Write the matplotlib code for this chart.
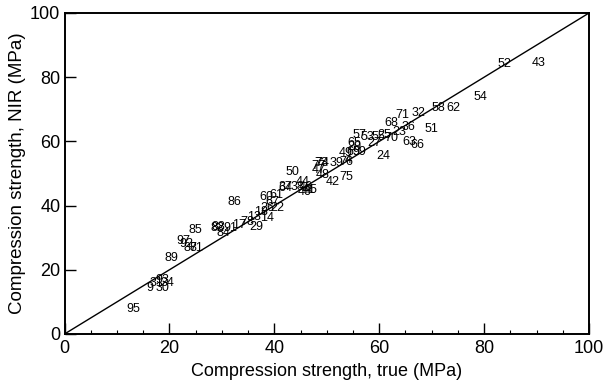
import matplotlib
matplotlib.use("Agg")
import matplotlib.pyplot as plt
import numpy as np
from matplotlib.ticker import MultipleLocator

plt.rcParams['font.family'] = ['Liberation Sans', 'DejaVu Sans']

# sample labels, true compression strength (MPa), NIR-predicted (MPa)
labels = ["95", "9", "30", "93", "31", "34",
          "89", "97", "92", "85", "87", "81", "82", "84",
          "88", "91", "17", "78", "13", "18", "26", "22", "29", "14",
          "86", "60", "61", "67", "64", "37", "50",
          "38", "46", "45", "44", "47", "48", "40", "41",
          "39", "42", "73", "74", "76", "77",
          "49", "75", "4", "69", "65", "57", "53", "55", "20", "59", "27",
          "24", "25", "68", "70", "63", "23", "66", "36", "32", "51", "71",
          "58", "62", "54", "52", "43"]
true_vals = [13.2, 16.2, 18.6, 18.6, 17.6, 19.6,
             20.3, 22.7, 23.3, 25.0, 24.0, 25.2, 29.1, 30.3,
             29.4, 31.7, 33.3, 34.9, 36.1, 37.4, 38.7, 40.6, 36.5, 38.7,
             32.3, 38.4, 40.3, 39.7, 42.2, 42.2, 43.5,
             44.4, 46.0, 47.0, 45.4, 48.5, 49.2, 45.8, 46.6,
             51.8, 51.1, 48.9, 49.2, 53.7, 48.4,
             53.7, 53.7, 54.0, 55.0, 55.3, 56.2, 57.8, 59.8, 55.2, 56.2, 59.0,
             60.7, 61.0, 62.3, 62.3, 65.7, 63.8, 67.3, 65.5, 67.5, 70.0, 64.5,
             71.2, 74.1, 79.3, 83.9, 90.4]
nir_vals = [7.7, 14.2, 14.2, 16.8, 15.8, 15.8,
            23.8, 29.0, 28.0, 32.4, 26.7, 26.7, 33.1, 31.5,
            33.4, 33.1, 34.0, 35.0, 36.5, 38.1, 39.2, 39.2, 33.4, 36.0,
            41.2, 42.8, 43.3, 41.2, 45.4, 45.9, 50.6,
            45.9, 45.9, 44.9, 47.4, 51.1, 49.5, 44.3, 45.0,
            53.2, 47.4, 53.4, 53.2, 53.7, 52.2,
            56.3, 49.0, 54.2, 56.8, 59.4, 62.0, 61.5, 61.5, 58.3, 56.8, 59.5,
            55.5, 62.0, 65.6, 61.0, 59.9, 63.0, 58.9, 64.6, 68.8, 63.8, 68.2,
            70.3, 70.3, 73.8, 84.1, 84.4]

axis_ticks = [0, 20, 40, 60, 80, 100]
diag = [0, 100]

fig = plt.figure(figsize=(6.07, 3.89), dpi=100)
ax = fig.add_axes([0.1063, 0.1414, 0.8641, 0.8252])

ax.plot(diag, diag, color="black", lw=1.0)
for lab, xv, yv in zip(labels, true_vals, nir_vals):
    ax.text(xv, yv, lab, ha="center", va="center", fontsize=9,
            color="black", family=['Liberation Sans', 'DejaVu Sans'])

ax.set_xlim(0, 100)
ax.set_ylim(0, 100)
ax.set_xticks(axis_ticks)
ax.set_yticks(axis_ticks)
ax.xaxis.set_minor_locator(MultipleLocator(5))
ax.tick_params(axis="both", which="major", direction="in", length=8, width=1,
               labelsize=13, top=False, right=False)
ax.tick_params(axis="x", which="major", pad=4)
ax.tick_params(axis="y", which="major", pad=3)
ax.tick_params(axis="x", which="minor", direction="in", length=3, width=0.8,
               top=False)
for sp in ax.spines.values():
    sp.set_linewidth(1.4)

ax.set_xlabel("Compression strength, true (MPa)", fontsize=13, labelpad=5)
ax.set_ylabel("Compression strength, NIR (MPa)", fontsize=13.5, labelpad=3)

fig.savefig("out.png", dpi=100)
